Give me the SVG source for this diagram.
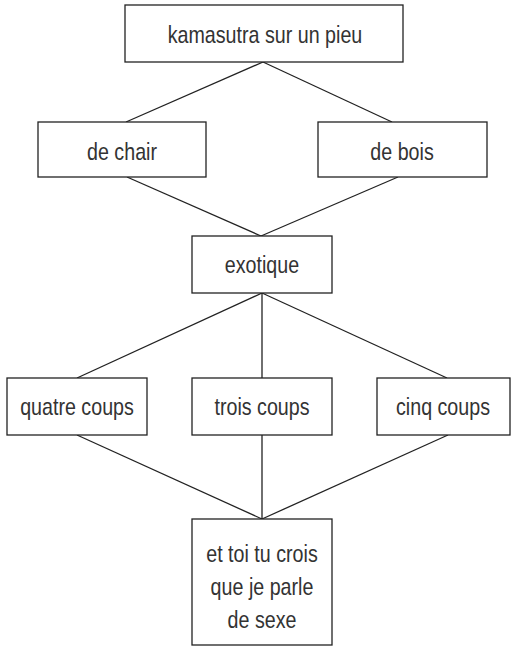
<svg xmlns="http://www.w3.org/2000/svg" width="511" height="646" viewBox="0 0 511 646">
<style>
rect{fill:#fff;stroke:#222;stroke-width:1.3}
text{font-family:"Liberation Sans",Arial,sans-serif;font-size:24px;fill:#333;text-anchor:middle}
#edges line{stroke:#222;stroke-width:1.3}
</style>
<rect x="0" y="0" width="511" height="646" style="stroke:none"/>
<g id="edges">
<line x1="263" y1="62" x2="126" y2="122"/>
<line x1="263" y1="62" x2="392" y2="122"/>
<line x1="127" y1="177" x2="261" y2="236"/>
<line x1="398" y1="177" x2="261" y2="236"/>
<line x1="262" y1="293" x2="77" y2="378"/>
<line x1="262" y1="293" x2="262" y2="378"/>
<line x1="262" y1="293" x2="447" y2="378"/>
<line x1="77" y1="435" x2="262" y2="519"/>
<line x1="262" y1="435" x2="262" y2="519"/>
<line x1="448" y1="435" x2="262" y2="519"/>
</g>
<g id="n_kamasutra"><rect x="125" y="5" width="278" height="57"/><text transform="translate(265 43) scale(0.82 1)">kamasutra sur un pieu</text></g>
<g id="n_chair"><rect x="38" y="122" width="168" height="55"/><text transform="translate(122 160) scale(0.82 1)">de chair</text></g>
<g id="n_bois"><rect x="318" y="122" width="169" height="55"/><text transform="translate(402 160) scale(0.82 1)">de bois</text></g>
<g id="n_exotique"><rect x="192" y="236" width="140" height="57"/><text transform="translate(262 273) scale(0.82 1)">exotique</text></g>
<g id="n_quatre"><rect x="7" y="378" width="140" height="57"/><text transform="translate(77 415) scale(0.82 1)">quatre coups</text></g>
<g id="n_trois"><rect x="192" y="378" width="140" height="57"/><text transform="translate(262 415) scale(0.82 1)">trois coups</text></g>
<g id="n_cinq"><rect x="377" y="378" width="133" height="57"/><text transform="translate(443 415) scale(0.82 1)">cinq coups</text></g>
<g id="n_final"><rect x="192" y="519" width="140" height="126"/>
<text transform="translate(262 562) scale(0.82 1)">et toi tu crois</text>
<text transform="translate(262 595) scale(0.82 1)">que je parle</text>
<text transform="translate(262 628) scale(0.82 1)">de sexe</text></g>
</svg>
